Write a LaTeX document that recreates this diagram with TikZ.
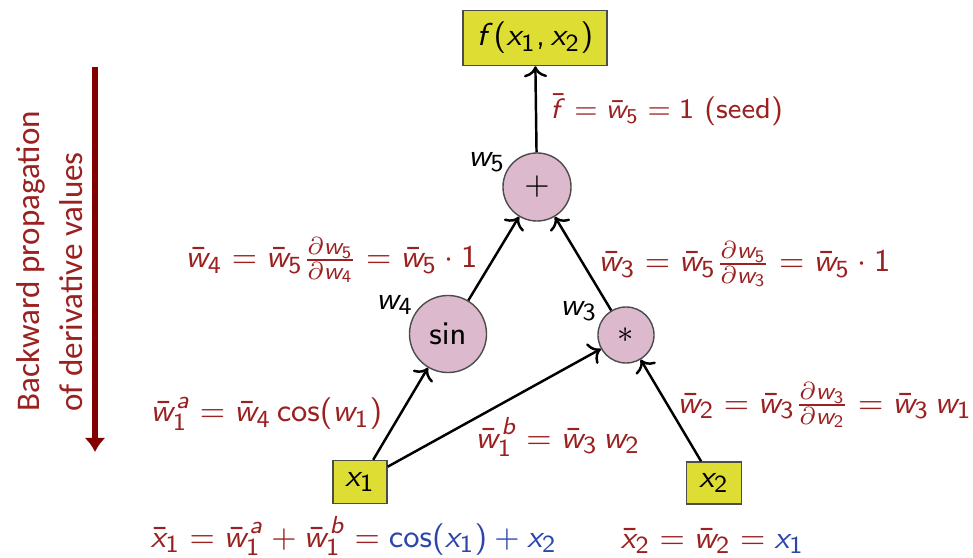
\documentclass[tikz,border=0pt]{standalone}
\usepackage{amsmath,amssymb}
\usepackage[no-math]{fontspec}
\newfontfamily\sidefont{Carlito}
\usepackage{tikz}
\usetikzlibrary{arrows.meta}

% sans serif math, slide style
\DeclareSymbolFont{cmmletters}{OML}{cmm}{m}{it}
\SetSymbolFont{operators}{normal}{OT1}{cmss}{m}{n}
\SetSymbolFont{letters}{normal}{OT1}{cmss}{m}{sl}
\DeclareMathSymbol{\partial}{\mathord}{cmmletters}{"40}
\DeclareMathSymbol{,}{\mathpunct}{operators}{"2C}

\definecolor{labred}{RGB}{155,32,32}
\definecolor{labblue}{RGB}{45,70,170}
\definecolor{arrred}{RGB}{130,0,0}
\definecolor{oppink}{RGB}{221,185,206}
\definecolor{varyellow}{RGB}{221,221,51}

\begin{document}
\begin{tikzpicture}[x=0.01cm,y=-0.01cm,
  every node/.style={font=\sffamily\fontsize{9.5}{11.5}\selectfont},
  op/.style={circle,draw=black!70,fill=oppink,inner sep=0pt},
  var/.style={rectangle,draw=black!70,fill=varyellow,inner sep=0pt},
  lab/.style={text=labred,anchor=base west,inner sep=0pt}]
\useasboundingbox (0,0) rectangle (973,558);
% computational graph
\node[var,minimum width=1.44cm,minimum height=0.55cm] (f) at (535,38) {$f(x_1,x_2)$};
\node[op,minimum size=0.68cm] (w5) at (537,187) {$+$};
\node[op,minimum size=0.77cm] (w4) at (448,334) {$\sin$};
\node[op,minimum size=0.56cm] (w3) at (626,335) {$*$};
\node[var,minimum width=0.54cm,minimum height=0.43cm] (x1) at (360,482) {$x_1$};
\node[var,minimum width=0.55cm,minimum height=0.42cm] (x2) at (714,483) {$x_2$};
\draw[->,line width=0.7pt] (w5) -- (f);
\draw[->,line width=0.7pt] (w4) -- (w5);
\draw[->,line width=0.7pt] (w3) -- (w5);
\draw[->,line width=0.7pt] (x1) -- (w4);
\draw[->,line width=0.7pt] (x1) -- (w3);
\draw[->,line width=0.7pt] (x2) -- (w3);
\node (n5) at (487,162) {$w_5$};
\node (n4) at (395,305) {$w_4$};
\node (n3) at (579,311) {$w_3$};
% adjoints
\node[lab,font=\sffamily\fontsize{8.2}{10}\selectfont] (seed) at (550,119) {$\bar{f}=\bar{w}_5=1$ (seed)};
\node[lab] (a4) at (185,268) {$\bar{w}_4=\bar{w}_5\frac{\partial w_5}{\partial w_4}=\bar{w}_5\cdot 1$};
\node[lab] (a3) at (598,272) {$\bar{w}_3=\bar{w}_5\frac{\partial w_5}{\partial w_3}=\bar{w}_5\cdot 1$};
\node[lab] (a2) at (677,413) {$\bar{w}_2=\bar{w}_3\frac{\partial w_3}{\partial w_2}=\bar{w}_3\,w_1$};
\node[lab] (a1a) at (150,422) {$\bar{w}_1^a=\bar{w}_4\cos(w_1)$};
\node[lab] (a1b) at (475,448) {$\bar{w}_1^b=\bar{w}_3\,w_2$};
\node[lab] (ax1) at (150,547) {$\bar{x}_1=\bar{w}_1^a+\bar{w}_1^b=\color{labblue}\cos(x_1)+x_2$};
\node[lab] (ax2) at (620,548) {$\bar{x}_2=\bar{w}_2=\color{labblue}x_1$};
% direction of the sweep
\draw[arrred,line width=1.5pt,-{Latex[length=0.14cm,width=0.21cm]}] (95,67) -- (95,452);
\node[rotate=90,anchor=west,align=left,text=labred,font=\sidefont\fontsize{9.4}{12.3}\selectfont] (side) at (50,424)
  {Backward propagation\\of derivative values};
\end{tikzpicture}
\end{document}
